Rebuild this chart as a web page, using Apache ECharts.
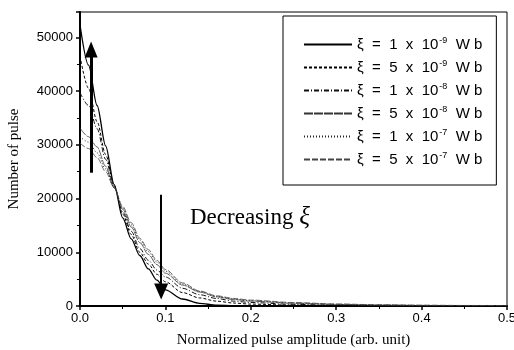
<!DOCTYPE html>
<html>
<head>
<meta charset="utf-8">
<script src="https://cdn.jsdelivr.net/npm/echarts@6/dist/echarts.min.js"></script>
<style>
  html, body { margin: 0; padding: 0; background: #fff; }
  #chart { width: 514px; height: 350px; }
</style>
</head>
<body>
<div id="chart"></div>
<script>
// normalized pulse amplitude (x) shared by all curves
const amplitudes = [0, 0.01, 0.02, 0.03, 0.04, 0.05, 0.06, 0.07, 0.08, 0.09, 0.10,
  0.12, 0.14, 0.16, 0.18, 0.20, 0.25, 0.30, 0.35, 0.40, 0.45, 0.50]

// number of pulses for each flux quantum
const xi1e9 = [52300, 44800, 37300, 29800, 22600, 16400, 12500, 9400, 6900, 4800, 3000,
  1300, 500, 150, 50, 20, 0, 0, 0, 0, 0, 0]
const xi5e9 = [46500, 40500, 34300, 28200, 22400, 17100, 13300, 10000, 7800, 5900, 4500,
  2500, 1500, 900, 550, 350, 150, 60, 30, 20, 10, 0]
const xi1e8 = [39700, 37300, 33000, 27300, 22200, 17500, 13900, 10700, 8500, 6700, 5400,
  3300, 2100, 1400, 900, 650, 300, 150, 80, 40, 20, 10]
const xi5e8 = [33100, 31500, 29600, 26000, 22000, 18000, 14700, 11800, 9600, 7700, 6100,
  3900, 2600, 1700, 1200, 900, 500, 280, 160, 100, 60, 40]
const xi1e7 = [31500, 30500, 28500, 25500, 22000, 18300, 15100, 12300, 10100, 8200, 6500,
  4100, 2700, 1800, 1300, 1000, 570, 330, 200, 120, 80, 50]
const xi5e7 = [30300, 29300, 27600, 25000, 22000, 18500, 15500, 12600, 10500, 8500, 6800,
  4300, 2800, 1900, 1400, 1100, 650, 380, 230, 150, 100, 70]

const seriesNames = ['1e-9', '5e-9', '1e-8', '5e-8', '1e-7', '5e-7']
const seriesValues = [xi1e9, xi5e9, xi1e8, xi5e8, xi1e7, xi5e7]

// arrows: [x, yFrom, yTo]
const upArrow = [0.013, 24800, 47700]
const downArrow = [0.095, 20700, 2700]

const lineStyles = [
  { width: 1.3, type: 'solid', color: '#000' },
  { width: 1, type: [3, 2], color: '#000' },
  { width: 1, type: [5, 2, 1, 2], color: '#111' },
  { width: 0.8, type: [9, 1], color: '#333' },
  { width: 1, type: [1, 2], color: '#222' },
  { width: 0.8, type: [6, 2], color: '#444' },
]

const serif = 'Liberation Serif'
const sans = 'Liberation Sans'

const chart = echarts.init(document.getElementById('chart'), null, { renderer: 'canvas' })

const series = seriesNames.map((name, i) => ({
  name,
  type: 'line',
  showSymbol: false,
  symbol: 'none',
  smooth: 0.3,
  smoothMonotone: 'x',
  animation: false,
  lineStyle: lineStyles[i],
  itemStyle: { color: lineStyles[i].color },
  data: amplitudes.map((x, j) => [x, seriesValues[i][j]]),
}))

series[0].markLine = {
  silent: true,
  animation: false,
  label: { show: false },
  symbol: ['none', 'triangle'],
  data: [
    [
      { coord: [upArrow[0], upArrow[1]], lineStyle: { width: 3, type: 'solid', color: '#000' } },
      { coord: [upArrow[0], upArrow[2]], symbolSize: [13, 16] },
    ],
    [
      { coord: [downArrow[0], downArrow[1]], lineStyle: { width: 2, type: 'solid', color: '#000' } },
      { coord: [downArrow[0], downArrow[2]], symbolSize: [14, 16] },
    ],
  ],
}

chart.setOption({
  animation: false,
  grid: {
    left: 80,
    right: 7,
    top: 12,
    bottom: 44,
    outerBoundsMode: 'none',
    show: true,
    borderColor: '#000',
    borderWidth: 1,
  },
  legend: {
    orient: 'vertical',
    left: 283,
    top: 16,
    padding: [20, 14, 18, 20],
    itemGap: 7,
    itemWidth: 48,
    itemHeight: 16,
    icon: 'inherit',
    itemStyle: { opacity: 0 },
    borderColor: '#000',
    borderWidth: 1,
    data: seriesNames,
    formatter: (name) => {
      const [m, e] = name.split('e')
      return `{t|ξ  =  ${m}  x  10}{s|${e}}{t|  W b}`
    },
    textStyle: {
      color: '#000',
      rich: {
        t: { fontFamily: sans, fontSize: 15, color: '#000' },
        s: { fontFamily: sans, fontSize: 9, color: '#000', padding: [0, 0, 8, 1] },
      },
    },
  },
  xAxis: {
    type: 'value',
    min: 0,
    max: 0.5,
    interval: 0.1,
    name: 'Normalized pulse amplitude (arb. unit)',
    nameLocation: 'middle',
    nameGap: 27,
    nameTextStyle: { fontFamily: serif, fontSize: 15, color: '#000' },
    axisLine: { lineStyle: { color: '#000', width: 2 } },
    axisTick: { length: 4, lineStyle: { color: '#000', width: 1.5 } },
    minorTick: { show: true, splitNumber: 2, length: 3, lineStyle: { color: '#000', width: 1 } },
    splitLine: { show: false },
    axisLabel: {
      color: '#000',
      fontFamily: sans,
      fontSize: 13,
      margin: 6,
      formatter: (v) => v.toFixed(1),
    },
  },
  yAxis: {
    type: 'value',
    min: 0,
    max: 54700,
    interval: 10000,
    name: 'Number of pulse',
    nameLocation: 'middle',
    nameGap: 58,
    nameTextStyle: { fontFamily: serif, fontSize: 15, color: '#000' },
    axisLine: { lineStyle: { color: '#000', width: 2 } },
    axisTick: { length: 4, lineStyle: { color: '#000', width: 1.5 } },
    minorTick: { show: true, splitNumber: 2, length: 3, lineStyle: { color: '#000', width: 1 } },
    splitLine: { show: false },
    axisLabel: {
      color: '#000',
      fontFamily: sans,
      fontSize: 13,
      margin: 7,
      showMaxLabel: false,
      formatter: (v) => String(v),
    },
  },
  graphic: [
    {
      type: 'text',
      left: 190,
      top: 205,
      style: {
        text: '{a|Decreasing }{b|ξ}',
        rich: {
          a: { fontFamily: serif, fontSize: 23, fill: '#000' },
          b: { fontFamily: serif, fontSize: 25, fontStyle: 'italic', fill: '#000' },
        },
      },
    },
  ],
  series,
})
</script>
</body>
</html>
